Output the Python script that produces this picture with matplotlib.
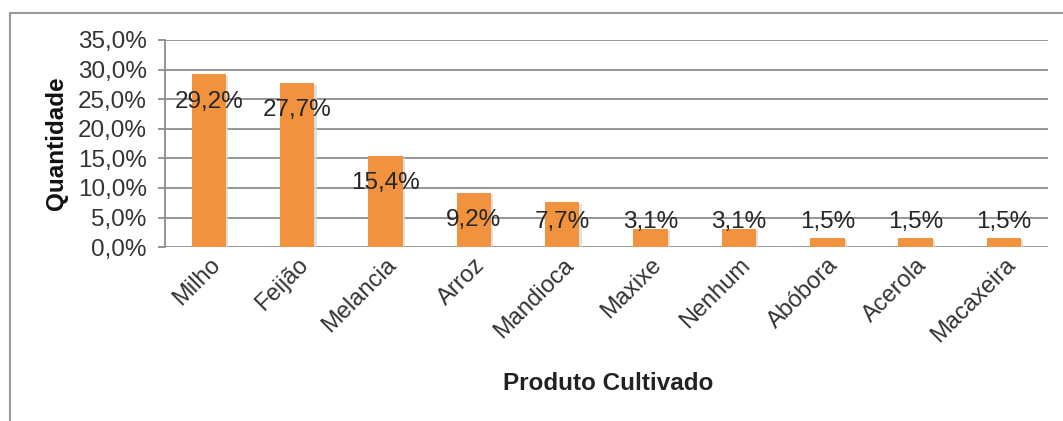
import matplotlib.pyplot as plt
import matplotlib.patheffects as pe
from matplotlib.patches import Rectangle

plt.rcParams['font.family'] = ['Liberation Sans', 'DejaVu Sans']

# Data
produtos = ["Milho", "Feijão", "Melancia", "Arroz", "Mandioca",
            "Maxixe", "Nenhum", "Abóbora", "Acerola", "Macaxeira"]
percentuais = [29.2, 27.7, 15.4, 9.2, 7.7, 3.1, 3.1, 1.5, 1.5, 1.5]
yticks = [0, 5, 10, 15, 20, 25, 30, 35]

fig = plt.figure(figsize=(10.63, 4.21), dpi=100)
ax = fig.add_axes([0.155, 0.413, 0.831, 0.492])

x = range(len(produtos))
bars = ax.bar(x, percentuais, width=0.39, color="#F0923E", zorder=3)
for b in bars:
    b.set_path_effects([pe.SimplePatchShadow(offset=(1.5, -1.5), shadow_rgbFace="#d8d8d8", alpha=0.8),
                        pe.Normal()])

# data labels (Excel-like placement near the bar top)
for i, v in enumerate(percentuais):
    ax.text(i, max(v - 4.6, 4.2), f"{v:.1f}%".replace(".", ","),
            ha="center", va="center", fontsize=17.5, color="#262626", zorder=4)

ax.set_xlim(-0.5, len(produtos) - 0.5)
ax.set_ylim(0, 35)
ax.set_yticks(yticks)
ax.set_yticklabels([f"{t:.1f}%".replace(".", ",") for t in yticks], fontsize=17.5, color="#333333")
ax.yaxis.grid(True, color="#8c8c8c", linewidth=1.3, zorder=0)
ax.tick_params(axis="y", length=5, color="#8c8c8c", width=1.3, pad=8)
ax.tick_params(axis="x", length=0, pad=5)
ax.set_xticks(list(x))
ax.set_xticklabels(produtos, rotation=45, ha="right", rotation_mode="anchor",
                   fontsize=17, color="#333333")

for s in ["top", "right", "bottom"]:
    ax.spines[s].set_visible(False)
ax.spines["left"].set_color("#8c8c8c")
ax.spines["left"].set_linewidth(1.3)

ax.set_ylabel("Quantidade", fontsize=17.5, fontweight="bold", labelpad=7, color="#111111")
fig.text(0.572, 0.09, "Produto Cultivado", ha="center", va="center",
         fontsize=17.5, fontweight="bold", color="#222222")

# outer frame like the original chart area
fig.patches.append(Rectangle((10 / 1063, -0.1), 1.2, 1 - 13 / 421 + 0.1,
                             transform=fig.transFigure, fill=False,
                             edgecolor="#9a9a9a", linewidth=1.5))

fig.savefig("out.png", dpi=100)
